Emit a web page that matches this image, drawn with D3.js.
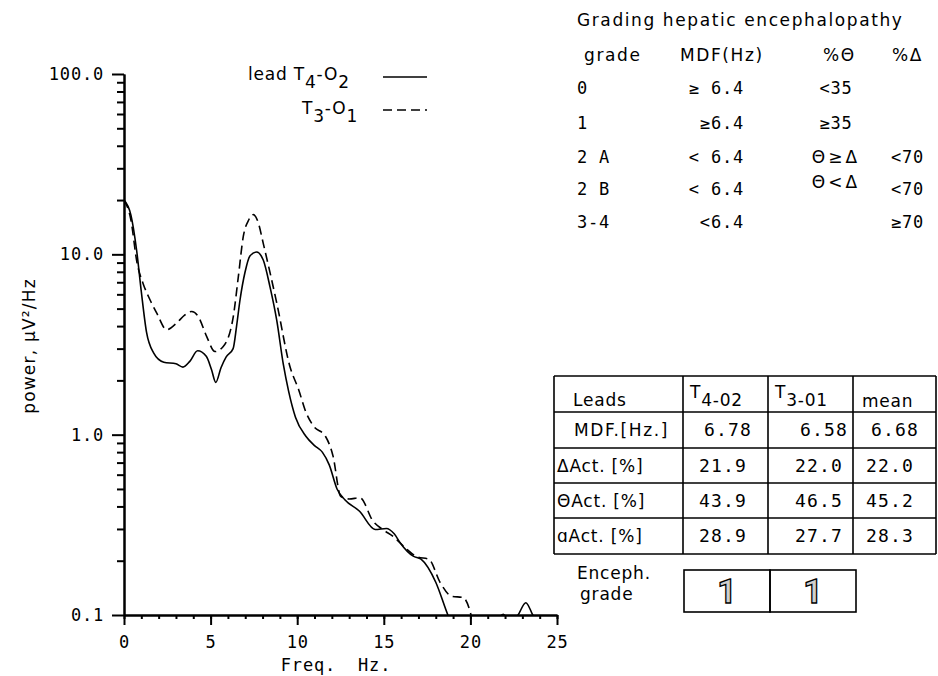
<!DOCTYPE html>
<html>
<head>
<meta charset="utf-8">
<script src="https://cdn.jsdelivr.net/npm/d3@7"></script>
<style>
  body { margin: 0; background: #fff; }
  .mono { font-family: "DejaVu Sans Mono", monospace; font-size: 17px; letter-spacing: 0.8px; }
  .sans { font-family: "DejaVu Sans", sans-serif; font-size: 17px; letter-spacing: 0.8px; }
  .big { font-family: Roboto, "Open Sans", sans-serif; font-weight: 700; font-size: 34px; }
  text { fill: #000; white-space: pre; }
</style>
</head>
<body>
<svg id="canvas" width="938" height="676"></svg>
<script>
// spectrum data (Hz, power uV^2/Hz)
const solidFreq = [0, 0.4, 0.73, 1.0, 1.3, 1.7, 2.3, 3.0, 3.4, 3.8, 4.25, 4.75, 5.05, 5.3, 5.6, 5.9, 6.3, 6.5, 6.7, 6.98, 7.27, 7.66, 8.04, 8.43, 8.82, 9.2, 9.5, 9.9, 10.5, 11.0, 11.45, 11.85, 12.3, 12.75, 13.6, 14.5, 15.15, 15.6, 15.95, 16.7, 17.15, 18.0, 18.7, 19.2, 21.0, 21.9, 22.3, 22.75, 23.2, 23.6, 24.0];
const solidPower = [20, 16.5, 10.5, 6.2, 3.7, 2.85, 2.52, 2.47, 2.37, 2.55, 2.92, 2.72, 2.3, 1.95, 2.35, 2.7, 3.0, 4.0, 5.6, 7.9, 9.8, 10.3, 9.3, 6.6, 4.3, 2.45, 1.75, 1.25, 0.98, 0.87, 0.8, 0.68, 0.5, 0.436, 0.376, 0.298, 0.302, 0.282, 0.251, 0.212, 0.204, 0.152, 0.1, 0.078, 0.08, 0.101, 0.09, 0.1, 0.117, 0.1, 0.085];

const dashFreq = [0, 0.4, 0.75, 1.1, 1.5, 1.9, 2.46, 3.04, 3.5, 3.91, 4.29, 4.77, 5.25, 5.73, 6.31, 6.6, 6.89, 7.2, 7.47, 7.75, 8.04, 8.82, 9.58, 10.08, 10.52, 10.96, 11.63, 12.07, 12.51, 13.0, 13.62, 14.39, 14.94, 15.6, 16.27, 16.93, 17.6, 18.26, 18.92, 19.58, 20.0, 20.2];
const dashPower = [20, 15.5, 9.0, 6.9, 5.6, 4.7, 3.82, 4.16, 4.6, 4.82, 4.52, 3.51, 2.89, 3.08, 4.52, 7.5, 12.6, 15.5, 16.6, 15.0, 11.5, 5.37, 2.39, 1.78, 1.32, 1.11, 0.98, 0.76, 0.455, 0.44, 0.447, 0.33, 0.298, 0.27, 0.234, 0.21, 0.204, 0.151, 0.127, 0.125, 0.103, 0.085];

const xMajorTicks = [0, 5, 10, 15, 20, 25];
const yMajorTicks = [0.1, 1, 10, 100];
const yMinorTicks = [0.2, 0.3, 0.4, 0.5, 0.6, 0.7, 0.8, 0.9, 2, 3, 4, 5, 6, 7, 8, 9, 20, 30, 40, 50, 60, 70, 80, 90];

// grading table
const gradeTitle = 'Grading hepatic encephalopathy';
const gradeHeader = ['grade', 'MDF(Hz)', '%Θ', '%Δ'];
const gradeLabels = ['0', '1', '2 A', '2 B', '3-4'];
const gradeMdf = ['≥ 6.4', '≥6.4', '< 6.4', '< 6.4', '<6.4'];
const gradeTheta = ['<35', '≥35', 'Θ≥Δ', 'Θ<Δ', ''];
const gradeDelta = ['', '', '<70', '<70', '≥70'];

// leads table
const leadRowLabels = ['MDF.[Hz.]', 'ΔAct. [%]', 'ΘAct. [%]', 'ɑAct. [%]'];
const mdfValues = ['6.78', '6.58', '6.68'];
const deltaAct = ['21.9', '22.0', '22.0'];
const thetaAct = ['43.9', '46.5', '45.2'];
const alphaAct = ['28.9', '27.7', '28.3'];
const encephGrade = ['1', '1'];

const svg = d3.select('#canvas');

// scales
const x = d3.scaleLinear().domain([0, 25]).range([124, 557]);
const y = d3.scaleLog().domain([0.1, 100]).range([615, 74]);

// clip to plot area
svg.append('clipPath').attr('id', 'plotclip')
  .append('rect')
    .attr('x', x(0)).attr('y', y(100))
    .attr('width', x(25) - x(0)).attr('height', y(0.1) - y(100));

// axes
function styleAxis(g) {
  g.selectAll('path, line').attr('stroke', '#000').attr('stroke-width', 2);
  g.selectAll('text').attr('class', 'mono').attr('font-size', null).attr('font-family', null);
}

svg.append('g')
  .attr('transform', `translate(0,${y(0.1)})`)
  .call(d3.axisBottom(x).tickValues(d3.range(0, 26)).tickSize(4).tickFormat('').tickSizeOuter(0))
  .call(styleAxis);
svg.append('g')
  .attr('transform', `translate(0,${y(0.1)})`)
  .call(d3.axisBottom(x).tickValues(xMajorTicks).tickSize(10).tickPadding(11).tickSizeOuter(0).tickFormat(d3.format('d')))
  .call(styleAxis);

svg.append('g')
  .attr('transform', `translate(${x(0)},0)`)
  .call(d3.axisLeft(y).tickValues(yMinorTicks).tickSize(7).tickFormat('').tickSizeOuter(0))
  .call(styleAxis);
svg.append('g')
  .attr('transform', `translate(${x(0)},0)`)
  .call(d3.axisLeft(y).tickValues(yMajorTicks).tickSize(12).tickPadding(8).tickSizeOuter(0).tickFormat(d3.format('.1f')))
  .call(styleAxis);

// axis titles
svg.append('text')
  .attr('class', 'mono')
  .attr('x', 336).attr('y', 671)
  .attr('text-anchor', 'middle')
  .text('Freq.  Hz.');

svg.append('text')
  .attr('class', 'sans')
  .attr('transform', 'translate(35,346) rotate(-90)')
  .attr('text-anchor', 'middle')
  .style('letter-spacing', '1.2px')
  .text('power, μV²/Hz');

// curves
const line = d3.line()
  .x(d => x(d[0]))
  .y(d => y(d[1]))
  .curve(d3.curveMonotoneX);

const plot = svg.append('g').attr('clip-path', 'url(#plotclip)');
plot.append('path')
  .datum(d3.zip(solidFreq, solidPower))
  .attr('d', line)
  .attr('fill', 'none').attr('stroke', '#000').attr('stroke-width', 1.6);
plot.append('path')
  .datum(d3.zip(dashFreq, dashPower))
  .attr('d', line)
  .attr('fill', 'none').attr('stroke', '#000').attr('stroke-width', 1.6)
  .attr('stroke-dasharray', '9,5');

// legend
function leadName(g, xPos, yPos, parts) {
  const t = g.append('text').attr('class', 'sans').attr('x', xPos).attr('y', yPos);
  parts.forEach(p => {
    t.append('tspan').attr('dy', p.dy).text(p.s);
  });
}
const legend = svg.append('g');
leadName(legend, 248, 80, [{s: 'lead T', dy: 0}, {s: '4', dy: 8}, {s: '-O', dy: -8}, {s: '2', dy: 8}]);
leadName(legend, 302, 114, [{s: 'T', dy: 0}, {s: '3', dy: 8}, {s: '-O', dy: -8}, {s: '1', dy: 8}]);
legend.append('line').attr('x1', 383).attr('x2', 427).attr('y1', 77).attr('y2', 77)
  .attr('stroke', '#000').attr('stroke-width', 1.6);
legend.append('line').attr('x1', 383).attr('x2', 427).attr('y1', 110).attr('y2', 110)
  .attr('stroke', '#000').attr('stroke-width', 1.6).attr('stroke-dasharray', '9,5');

// grading table
const grading = svg.append('g');
grading.append('text').attr('class', 'sans').attr('x', 577).attr('y', 26)
  .style('letter-spacing', '1.6px').text(gradeTitle);
const gradeColX = [584, 680, 823, 892];
gradeHeader.forEach((h, i) => {
  grading.append('text').attr('class', 'sans').attr('x', gradeColX[i]).attr('y', 61)
    .style('letter-spacing', '1.6px').text(h);
});
const gradeRowY = [94, 129, 163, 195, 228];
gradeLabels.forEach((g, i) => {
  grading.append('text').attr('class', 'mono').attr('x', 577).attr('y', gradeRowY[i]).text(g);
  grading.append('text').attr('class', 'mono').attr('x', 744).attr('y', gradeRowY[i])
    .attr('text-anchor', 'end').text(gradeMdf[i]);
  grading.append('text').attr('class', i >= 2 ? 'sans' : 'mono')
    .attr('x', 836).attr('y', i === 3 ? gradeRowY[i] - 7 : gradeRowY[i])
    .attr('text-anchor', 'middle').style('letter-spacing', i >= 2 ? '3px' : null)
    .text(gradeTheta[i]);
  grading.append('text').attr('class', 'mono').attr('x', 924).attr('y', gradeRowY[i])
    .attr('text-anchor', 'end').text(gradeDelta[i]);
});

// leads table
const tbl = svg.append('g');
const colEdges = [554, 683, 768, 853, 936];
const rowEdges = [376, 412, 448, 483, 518, 554];
tbl.selectAll('line.h').data(rowEdges).join('line')
  .attr('x1', colEdges[0]).attr('x2', colEdges[4])
  .attr('y1', d => d).attr('y2', d => d)
  .attr('stroke', '#000').attr('stroke-width', 1.6);
tbl.selectAll('line.v').data(colEdges).join('line')
  .attr('x1', d => d).attr('x2', d => d)
  .attr('y1', rowEdges[0]).attr('y2', rowEdges[5])
  .attr('stroke', '#000').attr('stroke-width', 1.6);

tbl.append('text').attr('class', 'sans').attr('x', 573).attr('y', 406).text('Leads');
leadName(tbl, 690, 398, [{s: 'T', dy: 0}, {s: '4-02', dy: 8}]);
leadName(tbl, 775, 398, [{s: 'T', dy: 0}, {s: '3-01', dy: 8}]);
tbl.append('text').attr('class', 'sans').attr('x', 862).attr('y', 407).text('mean');

const valueRows = [mdfValues, deltaAct, thetaAct, alphaAct];
const valueColX = [699, 795, 866];
leadRowLabels.forEach((lab, r) => {
  const yy = (rowEdges[r + 1] + rowEdges[r + 2]) / 2 + 6;
  tbl.append('text').attr('class', 'sans')
    .attr('x', r === 0 ? 574 : 557).attr('y', yy)
    .style('letter-spacing', r === 0 ? '1.6px' : null)
    .text(lab);
  valueRows[r].forEach((v, c) => {
    tbl.append('text').attr('class', 'mono')
      .attr('x', valueColX[c] + (r === 0 ? 5 : 0)).attr('y', yy)
      .style('font-size', '18px').style('letter-spacing', '1.2px')
      .text(v);
  });
});

// encephalopathy grade
tbl.append('text').attr('class', 'sans').attr('x', 577).attr('y', 579).text('Enceph.');
tbl.append('text').attr('class', 'sans').attr('x', 580).attr('y', 600).text('grade');
const boxX = [684, 770];
encephGrade.forEach((g, i) => {
  tbl.append('rect').attr('x', boxX[i]).attr('y', 570).attr('width', 86).attr('height', 42)
    .attr('fill', 'none').attr('stroke', '#000').attr('stroke-width', 1.6);
  tbl.append('text')
    .attr('class', 'big')
    .attr('x', boxX[i] + 43).attr('y', 603)
    .attr('text-anchor', 'middle')
    .style('fill', '#cfcfcf').attr('stroke', '#000').attr('stroke-width', 1.3)
    .text(g);
});
</script>
</body>
</html>
